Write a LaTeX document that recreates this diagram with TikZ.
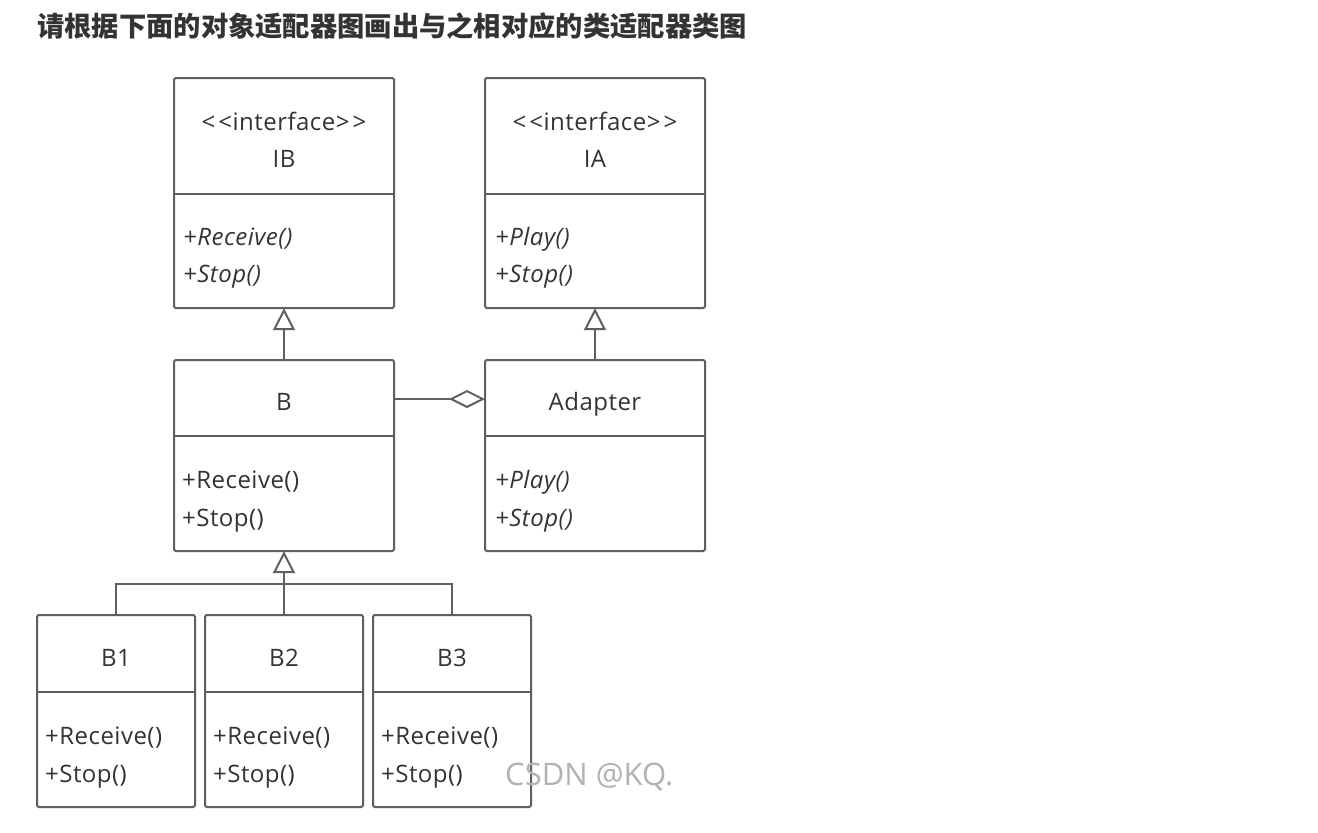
\documentclass[tikz,border=0pt]{standalone}
\usepackage{fontspec}
\setmainfont{Open Sans}[LetterSpace=2]
\newfontfamily\cjk{Noto Sans CJK SC}
\newfontfamily\wmfont{Open Sans}
\usetikzlibrary{arrows.meta}
\definecolor{ln}{HTML}{5F5F5F}
\definecolor{tx}{HTML}{333333}
\tikzset{
  box/.style={draw=ln,line width=2pt,rounded corners=1.5pt},
  div/.style={draw=ln,line width=2pt},
  conn/.style={draw=ln,line width=2pt},
  hd/.style={text=tx,font=\fontsize{24}{28}\selectfont,inner sep=0pt,anchor=base},
  mt/.style={text=tx,font=\fontsize{24}{28}\selectfont,inner sep=0pt,anchor=base west},
  mti/.style={mt,font=\fontsize{24}{28}\selectfont\itshape},
  gen/.style={-{Triangle[open,length=22pt,width=22pt,line width=2pt]}},
  agg/.style={-{Diamond[open,length=36pt,width=18pt,line width=2pt]}}
}
\newcommand{\stereo}{<\kern3pt<interface>\kern3pt>}
\begin{document}
\begin{tikzpicture}[x=1pt,y=-1pt]
\useasboundingbox[fill=white] (0,0) rectangle (1318,833);
\node[anchor=base west,inner sep=0pt,text=tx,font=\cjk\bfseries\fontsize{27.3}{30}\selectfont] (title) at (37,36) {请根据下面的对象适配器图画出与之相对应的类适配器类图};
% IB
\path[box] (174,78) rectangle (394,308);
\node[minimum width=220pt,minimum height=230pt,inner sep=0pt] (IB) at (284,193) {};
\draw[div] (174,194) -- (394,194);
\node[hd] (IBs) at (284,130) {\stereo};
\node[hd] (IBn) at (284,167) {IB};
\node[mti] (IB1) at (183,245) {+Receive()};
\node[mti] (IB2) at (183,282) {+Stop()};
% IA
\path[box] (485,78) rectangle (705,308);
\node[minimum width=220pt,minimum height=230pt,inner sep=0pt] (IA) at (595,193) {};
\draw[div] (485,194) -- (705,194);
\node[hd] (IAs) at (595,130) {\stereo};
\node[hd] (IAn) at (595,167) {IA};
\node[mti] (IA1) at (495,245) {+Play()};
\node[mti] (IA2) at (495,282) {+Stop()};
% B
\path[box] (174,360) rectangle (394,551);
\node[minimum width=220pt,minimum height=191pt,inner sep=0pt] (B) at (284,455.5) {};
\draw[div] (174,436) -- (394,436);
\node[hd] (Bn) at (284,410) {B};
\node[mt] (B1m) at (182,488) {+Receive()};
\node[mt] (B2m) at (182,526) {+Stop()};
% Adapter
\path[box] (485,360) rectangle (705,551);
\node[minimum width=220pt,minimum height=191pt,inner sep=0pt] (Ad) at (595,455.5) {};
\draw[div] (485,436) -- (705,436);
\node[hd] (Adn) at (595,410) {Adapter};
\node[mti] (Ad1) at (495,488) {+Play()};
\node[mti] (Ad2) at (495,526) {+Stop()};
% B1 B2 B3
\foreach \n/\cx in {1/116,2/284,3/452}{
  \path[box] (\cx-79,615) rectangle (\cx+79,807);
  \node[minimum width=158pt,minimum height=192pt,inner sep=0pt] (C\n) at (\cx,711) {};
  \draw[div] (\cx-79,692) -- (\cx+79,692);
  \node[hd] (C\n n) at (\cx,666) {B\n};
  \node[mt] (C\n a) at (\cx-71,744) {+Receive()};
  \node[mt] (C\n b) at (\cx-71,782) {+Stop()};
}
% connectors
\draw[conn,gen] (B.north) -- (IB.south);
\draw[conn,gen] (Ad.north) -- (IA.south);
\coordinate (Bagg) at (394,399);
\coordinate (Aagg) at (485,399);
\draw[conn,agg] (Bagg) -- (Aagg);
\coordinate (j) at (284,584);
\draw[conn,gen] (C2.north) -- (B.south);
\draw[conn] (C1.north) |- (j) -| (C3.north);
% watermark
\node[anchor=base west,inner sep=0pt,text=black!30,font=\wmfont\fontsize{31}{34}\selectfont] (wm) at (505,785) {CSDN @KQ.};
\end{tikzpicture}
\end{document}
